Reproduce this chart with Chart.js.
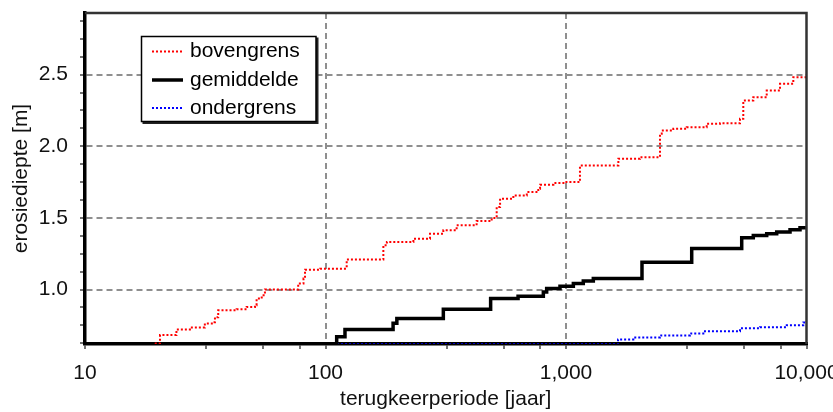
<!DOCTYPE html>
<html>
<head>
<meta charset="utf-8">
<script src="https://cdn.jsdelivr.net/npm/chart.js@4"></script>
<style>
  html, body { margin: 0; padding: 0; background: #fff; }
  #wrap { width: 833px; height: 412px; }
</style>
</head>
<body>
<div id="wrap"><canvas id="erosieChart" width="833" height="412"></canvas></div>
<script>
// terugkeerperiode [jaar] -> erosiediepte [m], stapfuncties
const bovengrensT = [19.5, 20.5, 24, 27.3, 31.5, 34.2, 34.7, 35.8, 42.7, 47, 50.9, 51.7, 54.3, 56, 77, 81, 82.2, 95, 122.5, 174,
  180, 232, 272, 309, 351, 425, 491, 515, 532, 604, 687, 767, 780, 886, 990, 1143, 1651, 2030, 2460, 2500,
  2794, 3177, 3846, 4369, 5290, 5460, 6009, 6832, 7760, 8813, 10000];
const bovengrensD = [0.624, 0.682, 0.721, 0.735, 0.763, 0.772, 0.807, 0.856, 0.863, 0.879, 0.891, 0.937, 0.96, 1.0, 1.042, 1.077, 1.139, 1.146, 1.209, 1.309,
  1.332, 1.355, 1.39, 1.413, 1.448, 1.478, 1.499, 1.576, 1.634, 1.657, 1.68, 1.704, 1.732, 1.743, 1.75, 1.866, 1.913, 1.924, 2.087, 2.11,
  2.122, 2.133, 2.157, 2.161, 2.192, 2.319, 2.342, 2.389, 2.436, 2.482, 2.5];

const gemiddeldeT = [10, 111.3, 120.5, 191, 198, 309, 486, 632, 805, 831, 944, 1073, 1180, 1299, 2070, 3332, 5378, 6009, 6832, 7518, 8541, 9397, 10000];
const gemiddeldeD = [0.618, 0.67, 0.721, 0.765, 0.798, 0.863, 0.937, 0.953, 0.983, 1.007, 1.023, 1.042, 1.06, 1.077, 1.19, 1.286, 1.362, 1.378, 1.39, 1.401, 1.418, 1.432, 1.441];

const ondergrensT = [10, 1646, 1905, 2460, 3278, 3724, 5290, 6409, 8277, 9699, 10000];
const ondergrensD = [0.618, 0.652, 0.665, 0.679, 0.693, 0.709, 0.73, 0.737, 0.751, 0.77, 0.779];

// as-indeling
const xMajor = [10, 100, 1000, 10000];
const xMinor = [32, 55, 78, 320, 550, 780, 3200, 5500, 7800];
const yMajor = [1.0, 1.5, 2.0, 2.5];
const yMinor = [0.625, 0.75, 0.875, 1.125, 1.25, 1.375, 1.625, 1.75, 1.875, 2.125, 2.25, 2.375, 2.625, 2.75, 2.875];

function toPoints(xs, ys) {
  return xs.map((x, i) => ({ x: x, y: ys[i] }));
}

Chart.defaults.font.family = "'Liberation Sans', Arial, sans-serif";
Chart.defaults.font.size = 21;
Chart.defaults.color = '#000';

// omlijsting boven/rechts + legenda met kader
const frameAndLegend = {
  id: 'frameAndLegend',
  afterDatasetsDraw(chart) {
    const ctx = chart.ctx;
    const a = chart.chartArea;
    ctx.save();
    ctx.strokeStyle = '#333';
    ctx.lineWidth = 2.5;
    ctx.beginPath();
    ctx.moveTo(a.left, a.top);
    ctx.lineTo(a.right, a.top);
    ctx.lineTo(a.right, a.bottom);
    ctx.stroke();

    const bx = 141.5, by = 36.5, bw = 174.5, bh = 85;
    ctx.fillStyle = '#222';
    ctx.fillRect(bx + 1, by + 1, bw + 1.5, bh + 1.5);
    ctx.fillStyle = '#fff';
    ctx.fillRect(bx, by, bw, bh);
    ctx.strokeStyle = '#000';
    ctx.lineWidth = 1.5;
    ctx.strokeRect(bx, by, bw, bh);

    const rows = [51.5, 80, 108];
    ctx.textBaseline = 'middle';
    ctx.textAlign = 'left';
    ctx.font = "21px 'Liberation Sans', Arial, sans-serif";
    chart.data.datasets.forEach((ds, i) => {
      const y = rows[i];
      ctx.strokeStyle = ds.borderColor;
      ctx.lineWidth = ds.borderWidth;
      ctx.setLineDash(ds.borderDash || []);
      ctx.beginPath();
      ctx.moveTo(152, y);
      ctx.lineTo(183, y);
      ctx.stroke();
      ctx.setLineDash([]);
      ctx.fillStyle = '#000';
      ctx.fillText(ds.label, 190, y);
    });
    ctx.restore();
  }
};

const ctx = document.getElementById('erosieChart').getContext('2d');

new Chart(ctx, {
  type: 'line',
  data: {
    datasets: [{
      label: 'bovengrens',
      data: toPoints(bovengrensT, bovengrensD),
      borderColor: '#ff0000',
      borderWidth: 2,
      borderDash: [2, 2],
      stepped: true,
      pointRadius: 0
    }, {
      label: 'gemiddelde',
      data: toPoints(gemiddeldeT, gemiddeldeD),
      borderColor: '#000000',
      borderWidth: 3.5,
      stepped: true,
      borderJoinStyle: 'miter',
      pointRadius: 0
    }, {
      label: 'ondergrens',
      data: toPoints(ondergrensT, ondergrensD),
      borderColor: '#0000ff',
      borderWidth: 2,
      borderDash: [2, 2],
      stepped: true,
      pointRadius: 0
    }]
  },
  options: {
    responsive: false,
    animation: false,
    layout: { padding: { top: 13, right: 26.5, left: 0, bottom: 0 } },
    plugins: {
      legend: { display: false },
      tooltip: { enabled: false }
    },
    scales: {
      x: {
        type: 'logarithmic',
        min: 10,
        max: 10000,
        afterBuildTicks: (axis) => {
          axis.ticks = xMajor.concat(xMinor).sort((a, b) => a - b).map(v => ({ value: v }));
        },
        afterFit: (axis) => {
          axis.height = 68;
          axis.paddingLeft = 0;
          axis.paddingRight = 0;
        },
        ticks: {
          autoSkip: false,
          maxRotation: 0,
          padding: 12,
          color: '#111',
          callback: (v) => xMajor.includes(v) ? v.toLocaleString('en-US') : ''
        },
        grid: {
          color: (c) => (c.tick && (c.tick.value === 100 || c.tick.value === 1000)) ? '#8f8f8f' : 'rgba(0,0,0,0)',
          lineWidth: 2,
          tickLength: 5,
          tickColor: '#444',
          tickWidth: 1.5,
          tickBorderDash: []
        },
        border: { display: true, color: '#000', width: 3.5, dash: [6, 4] },
        title: {
          display: true,
          text: 'terugkeerperiode [jaar]',
          color: '#111',
          padding: { top: 0, bottom: 0 }
        }
      },
      y: {
        type: 'linear',
        min: 0.62,
        max: 2.93,
        afterBuildTicks: (axis) => {
          axis.ticks = yMajor.concat(yMinor).sort((a, b) => a - b).map(v => ({ value: v }));
        },
        afterFit: (axis) => {
          axis.width = 85;
          axis.paddingTop = 0;
          axis.paddingBottom = 0;
        },
        ticks: {
          autoSkip: false,
          padding: 12,
          color: '#111',
          callback: (v) => yMajor.includes(v) ? v.toFixed(1) : ''
        },
        grid: {
          color: (c) => (c.tick && yMajor.includes(c.tick.value)) ? '#8f8f8f' : 'rgba(0,0,0,0)',
          lineWidth: 2,
          tickLength: 5,
          tickColor: '#444',
          tickWidth: 1.5,
          tickBorderDash: []
        },
        border: { display: true, color: '#000', width: 3.5, dash: [6, 4] },
        title: {
          display: true,
          text: 'erosiediepte [m]',
          color: '#111',
          padding: { top: 9, bottom: 0 }
        }
      }
    }
  },
  plugins: [frameAndLegend]
});
</script>
</body>
</html>
